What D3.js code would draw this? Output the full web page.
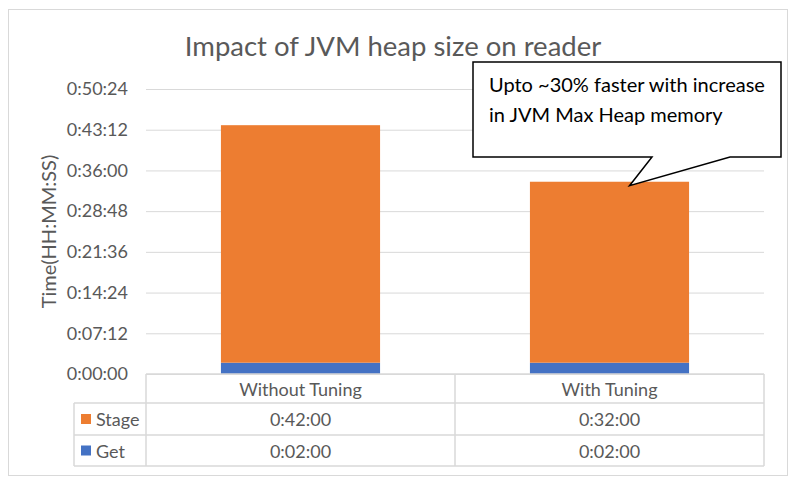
<!DOCTYPE html>
<html>
<head>
<meta charset="utf-8">
<script src="https://cdn.jsdelivr.net/npm/d3@7"></script>
<style>
  body { margin: 0; background: #fff; }
  text { font-family: Lato, "Open Sans", sans-serif; }
</style>
</head>
<body>
<div id="root"></div>
<script>
const width = 794;
const height = 485;

// data (minutes)
const categories = ["Without Tuning", "With Tuning"];
const getMinutes = [2, 2];
const stageMinutes = [42, 32];
const seriesNames = ["Get", "Stage"];
const seriesColors = ["#4472C4", "#ED7D31"];
const tickSeconds = [0, 432, 864, 1296, 1728, 2160, 2592, 3024];

const fmt = (s) => {
	const h = Math.floor(s / 3600);
	const m = Math.floor((s % 3600) / 60);
	const sec = s % 60;
	return `${h}:${String(m).padStart(2, "0")}:${String(sec).padStart(2, "0")}`;
};

const rows = categories.map((c, i) => ({ cat: c, Get: getMinutes[i] * 60, Stage: stageMinutes[i] * 60 }));

const plot = { left: 146, right: 764, top: 89, bottom: 374 };
const grey = "#595959";
const lineGrey = "#d9d9d9";

const svg = d3.select("#root")
	.append("svg")
		.attr("width", width)
		.attr("height", height);

// chart border
svg.append("rect")
	.attr("x", 8.5).attr("y", 9.5)
	.attr("width", 779).attr("height", 466)
	.style("fill", "#fff")
	.style("stroke", lineGrey);

// title
svg.append("text")
	.attr("x", 393).attr("y", 56)
	.attr("text-anchor", "middle")
	.style("font-size", "27.5px")
	.style("fill", grey)
	.text("Impact of JVM heap size on reader");

// scales
const y = d3.scaleLinear()
	.domain([0, 3024])
	.range([plot.bottom, plot.top]);

const xCol = d3.scaleBand()
	.domain(categories)
	.range([plot.left, plot.right]);

const xBar = d3.scaleBand()
	.domain(categories)
	.range([plot.left, plot.right])
	.paddingInner(0.485)
	.paddingOuter(0.2425);

// gridlines + tick labels
const yAxis = svg.append("g")
	.attr("transform", `translate(${plot.left},0)`)
	.call(d3.axisLeft(y).tickValues(tickSeconds).tickFormat(fmt).tickSize(-(plot.right - plot.left)).tickPadding(18));
yAxis.select(".domain").remove();
yAxis.selectAll(".tick line").style("stroke", lineGrey);
yAxis.selectAll(".tick text")
	.style("font-size", "18px")
	.style("fill", grey)
	.style("font-family", "Lato, sans-serif");

// axis title
svg.append("text")
	.attr("transform", `translate(56, ${(plot.top + plot.bottom) / 2}) rotate(-90)`)
	.attr("text-anchor", "middle")
	.style("font-size", "20px")
	.style("fill", grey)
	.text("Time(HH:MM:SS)");

// stacked bars
const stacked = d3.stack().keys(seriesNames)(rows);
svg.selectAll(".series")
	.data(stacked).enter()
	.append("g")
		.attr("class", "series")
		.style("fill", (d, i) => seriesColors[i])
	.selectAll("rect")
		.data(d => d).enter()
		.append("rect")
			.attr("x", d => xBar(d.data.cat))
			.attr("width", xBar.bandwidth())
			.attr("y", d => y(d[1]))
			.attr("height", d => y(d[0]) - y(d[1]));

// data table
const rowH = [plot.bottom, 403, 435, 466];
const legendLeft = 74;
const table = svg.append("g").style("stroke", lineGrey).style("stroke-width", 1.5);

rowH.forEach((ry, i) => {
	table.append("line")
		.attr("x1", i === 0 ? plot.left : legendLeft).attr("x2", plot.right)
		.attr("y1", ry).attr("y2", ry);
});
[plot.left, xCol(categories[1]), plot.right].forEach(cx => {
	table.append("line")
		.attr("x1", cx).attr("x2", cx)
		.attr("y1", rowH[0]).attr("y2", rowH[3]);
});
table.append("line")
	.attr("x1", legendLeft).attr("x2", legendLeft)
	.attr("y1", rowH[1]).attr("y2", rowH[3]);

// category labels
svg.selectAll(".cat")
	.data(categories).enter()
	.append("text")
		.attr("x", d => xCol(d) + xCol.bandwidth() / 2)
		.attr("y", (rowH[0] + rowH[1]) / 2 + 7)
		.attr("text-anchor", "middle")
		.style("font-size", "18px")
		.style("fill", grey)
		.text(d => d);

// table rows: Stage then Get
const tableRows = [
	{ name: "Stage", color: seriesColors[1], values: stageMinutes },
	{ name: "Get", color: seriesColors[0], values: getMinutes }
];

tableRows.forEach((r, i) => {
	const cy = (rowH[i + 1] + rowH[i + 2]) / 2;
	svg.append("rect")
		.attr("x", 81).attr("y", cy - 5)
		.attr("width", 10).attr("height", 10)
		.style("fill", r.color);
	svg.append("text")
		.attr("x", 96).attr("y", cy + 7)
		.style("font-size", "18px")
		.style("fill", grey)
		.text(r.name);
	svg.selectAll(null)
		.data(r.values).enter()
		.append("text")
			.attr("x", (d, j) => xCol(categories[j]) + xCol.bandwidth() / 2)
			.attr("y", cy + 7)
			.attr("text-anchor", "middle")
			.style("font-size", "18px")
			.style("fill", grey)
			.text(d => fmt(d * 60));
});

// callout
const tipX = xBar(categories[1]) + xBar.bandwidth() / 2 + 20;
const tipY = y((getMinutes[1] + stageMinutes[1]) * 60) + 4;
const box = { x0: 473, y0: 62, x1: 781, y1: 157 };
const calloutPath = `M ${box.x0} ${box.y0} L ${box.x1} ${box.y0} L ${box.x1} ${box.y1}
	L 730 ${box.y1} L ${tipX} ${tipY} L 652 ${box.y1} L ${box.x0} ${box.y1} Z`;
svg.append("path")
	.attr("d", calloutPath)
	.style("fill", "#fff")
	.style("stroke", "#000")
	.style("stroke-width", 1.5);

svg.append("text")
	.attr("x", 489).attr("y", 92)
	.style("font-size", "20px")
	.style("fill", "#000")
	.selectAll("tspan")
		.data(["Upto ~30% faster with increase", "in JVM Max Heap memory"]).enter()
		.append("tspan")
			.attr("x", 489)
			.attr("dy", (d, i) => i === 0 ? 0 : 30)
			.text(d => d);
</script>
</body>
</html>
